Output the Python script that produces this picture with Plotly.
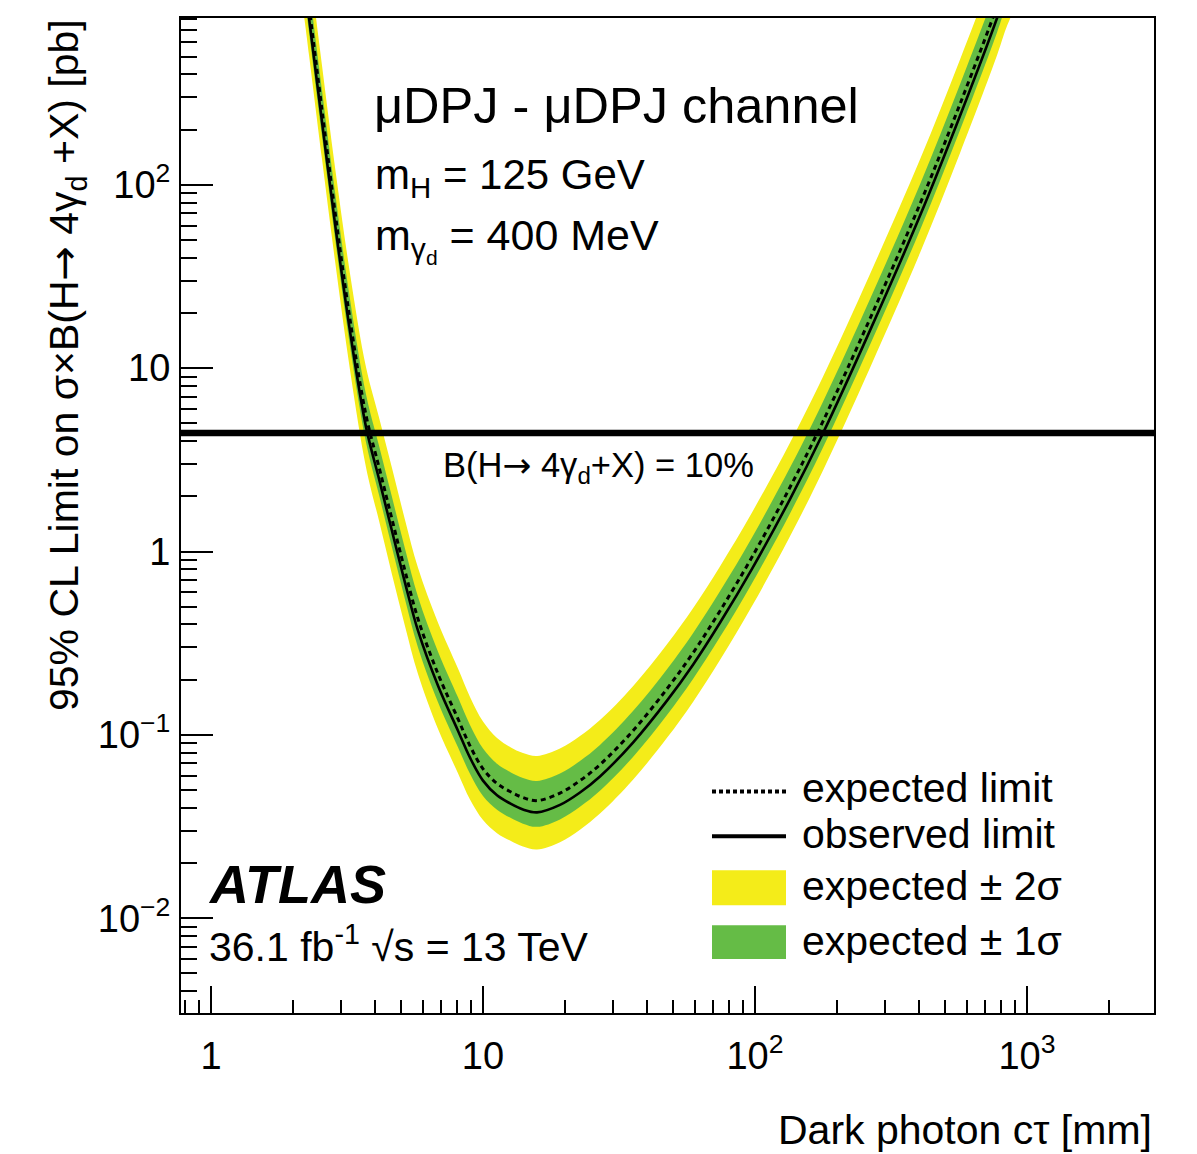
import plotly.graph_objects as go

# ---------------- data ----------------
ctau_mm = [2.12, 2.216, 2.293, 2.559, 2.857, 3.244, 3.715, 4.147, 4.628, 5.168, 5.768,
           6.833, 8.091, 8.958, 10.0, 11.26, 12.57, 14.03, 15.80,
           19.19, 22.73, 26.92, 35.60, 47.48, 59.18, 74.34, 97.50, 134.5, 177.8,
           264.8, 404.4, 567.3, 775.9, 830.0, 950.0]

observed = [1987, 1215, 812, 220.8, 61.5, 15.88, 4.77, 2.485, 1.294, 0.675, 0.370,
            0.1853, 0.1054, 0.0751, 0.0563, 0.0468, 0.0423, 0.0392, 0.0378,
            0.0415, 0.0485, 0.0593, 0.0908, 0.1537, 0.2414, 0.4087, 0.804, 1.933, 4.42,
            16.08, 67.97, 238.1, 812, 1098, 1931]

expected = [2305, 1409, 942, 256.1, 71.3, 18.42, 5.53, 2.883, 1.501, 0.783, 0.429,
            0.215, 0.1223, 0.0871, 0.0653, 0.0543, 0.0491, 0.0455, 0.0438,
            0.0481, 0.0563, 0.0688, 0.1053, 0.1783, 0.2800, 0.4741, 0.933, 2.242, 5.13,
            18.65, 78.85, 276.2, 942, 1274, 2240]

exp_p1 = [2950, 1804, 1206, 327.8, 91.3, 23.76, 7.19, 3.777, 1.981, 1.034, 0.566,
          0.2838, 0.1602, 0.1132, 0.0842, 0.0695, 0.0628, 0.0582, 0.0561,
          0.0616, 0.0721, 0.0881, 0.1348, 0.2282, 0.3584, 0.6068, 1.194, 2.870, 6.57,
          23.87, 100.9, 353.5, 1206, 1631, 2867]

exp_m1 = [1660, 1014, 678, 184.4, 51.3, 13.17, 3.93, 2.033, 1.051, 0.548, 0.300,
          0.1505, 0.0856, 0.0614, 0.0464, 0.0391, 0.0354, 0.0328, 0.0315,
          0.0346, 0.0405, 0.0495, 0.0758, 0.1284, 0.2016, 0.3414, 0.672, 1.614, 3.69,
          13.43, 56.77, 198.9, 678, 917, 1613]

exp_p2 = [4034, 2466, 1649, 448.2, 124.8, 32.79, 10.12, 5.391, 2.852, 1.488, 0.815,
          0.4085, 0.2299, 0.1611, 0.1182, 0.0961, 0.0859, 0.0796, 0.0767,
          0.0842, 0.0985, 0.1204, 0.1843, 0.3120, 0.4900, 0.8297, 1.633, 3.924, 8.98,
          32.64, 138.0, 483.4, 1649, 2230, 3920]

exp_m2 = [1245, 761, 509, 138.3, 38.5, 9.76, 2.876, 1.470, 0.7505, 0.3915, 0.2145,
          0.1075, 0.0618, 0.0444, 0.0343, 0.0291, 0.0265, 0.0246, 0.0237,
          0.0260, 0.0304, 0.0372, 0.0569, 0.0963, 0.1512, 0.2560, 0.504, 1.211, 2.77,
          10.07, 42.58, 149.1, 509, 688, 1210]

br10_limit = 4.43  # sigma(H) x 10% [pb]

x_tickvals = [1, 10, 100, 1000]
x_ticktext = ["1", "10", "10<sup>2</sup>", "10<sup>3</sup>"]
y_tickvals = [0.01, 0.1, 1, 10, 100]
y_ticktext = ["10<sup>\u22122</sup>", "10<sup>\u22121</sup>", "1", "10", "10<sup>2</sup>"]

x_minor = [0.8, 0.9] + [m * d for d in (1, 10, 100) for m in range(2, 10)] + [2000]
y_minor = [m * d for d in (0.001, 0.01, 0.1, 1, 10, 100) for m in range(2, 10)]

YELLOW = "#F4EC19"
GREEN = "#65BC46"
FONT = "Liberation Sans, Arial, Helvetica, sans-serif"
ARROW = "<span style=\"font-family:'DejaVu Sans'\">\u2192</span>"
SMOOTH = 1.0

# ---------------- figure ----------------
fig = go.Figure()

fig.add_trace(go.Scatter(
    x=ctau_mm + ctau_mm[::-1], y=exp_p2 + exp_m2[::-1],
    fill="toself", fillcolor=YELLOW, line=dict(width=0, shape="spline", smoothing=SMOOTH),
    mode="lines", hoverinfo="skip", showlegend=False))
fig.add_trace(go.Scatter(
    x=ctau_mm + ctau_mm[::-1], y=exp_p1 + exp_m1[::-1],
    fill="toself", fillcolor=GREEN, line=dict(width=0, shape="spline", smoothing=SMOOTH),
    mode="lines", hoverinfo="skip", showlegend=False))
fig.add_trace(go.Scatter(
    x=ctau_mm, y=expected, mode="lines",
    line=dict(color="black", width=3, dash="5px,4px", shape="spline", smoothing=SMOOTH),
    showlegend=False))
fig.add_trace(go.Scatter(
    x=ctau_mm, y=observed, mode="lines",
    line=dict(color="black", width=2.6, shape="spline", smoothing=SMOOTH),
    showlegend=False))

# horizontal B = 10% line
fig.add_shape(type="line", xref="paper", x0=0, x1=1, yref="y", y0=br10_limit, y1=br10_limit,
              line=dict(color="black", width=6.5))

# page body has an 8 px margin; screen coordinates of the plot frame:
OFF = 8
L, R, T, B = 181, 1154, 16, 1013
W, H = 1197 - OFF, 1154 - OFF


def px(xp):
    return (xp - L) / (R - L)


def py(yp):
    return (B - yp) / (B - T)


# legend (manual, ROOT style)
fig.add_shape(type="line", xref="paper", yref="paper", x0=px(712), x1=px(786), y0=py(791), y1=py(791),
              line=dict(color="black", width=4, dash="4px,3px"))
fig.add_shape(type="line", xref="paper", yref="paper", x0=px(712), x1=px(786), y0=py(836), y1=py(836),
              line=dict(color="black", width=4))
fig.add_shape(type="rect", xref="paper", yref="paper", x0=px(712), x1=px(786), y0=py(905), y1=py(870),
              fillcolor=YELLOW, line=dict(width=0))
fig.add_shape(type="rect", xref="paper", yref="paper", x0=px(712), x1=px(786), y0=py(959), y1=py(925),
              fillcolor=GREEN, line=dict(width=0))

legend_items = [("expected limit", 788), ("observed limit", 834),
                ("expected \u00b1 2\u03c3", 886), ("expected \u00b1 1\u03c3", 941)]
for txt, yy in legend_items:
    fig.add_annotation(xref="paper", yref="paper", x=px(800), y=py(yy), text=txt,
                       xanchor="left", yanchor="middle", showarrow=False,
                       font=dict(family=FONT, size=41, color="black"))

# labels inside the plot
fig.add_annotation(xref="paper", yref="paper", x=px(372), y=py(104),
                   text="\u03bcDPJ - \u03bcDPJ channel", xanchor="left", yanchor="middle",
                   showarrow=False, font=dict(family=FONT, size=50.5, color="black"))
fig.add_annotation(xref="paper", yref="paper", x=px(373), y=py(176),
                   text="m<sub>H</sub> = 125 GeV", xanchor="left", yanchor="middle",
                   showarrow=False, font=dict(family=FONT, size=42, color="black"))
fig.add_annotation(xref="paper", yref="paper", x=px(373), y=py(238),
                   text="m<sub>\u03b3<sub>d</sub></sub> = 400 MeV", xanchor="left", yanchor="middle",
                   showarrow=False, font=dict(family=FONT, size=43, color="black"))
fig.add_annotation(xref="paper", yref="paper", x=px(441), y=py(466),
                   text="B(H" + ARROW + " 4\u03b3<sub>d</sub>+X) = 10%", xanchor="left", yanchor="middle",
                   showarrow=False, font=dict(family=FONT, size=34.5, color="black"))
fig.add_annotation(xref="paper", yref="paper", x=px(206), y=py(884),
                   text="<b><i>ATLAS</i></b>", xanchor="left", yanchor="middle",
                   showarrow=False, font=dict(family=FONT, size=54, color="black"))
fig.add_annotation(xref="paper", yref="paper", x=px(207), y=py(944),
                   text="36.1 fb<sup>-1</sup> \u221as = 13 TeV", xanchor="left", yanchor="middle",
                   showarrow=False, font=dict(family=FONT, size=41, color="black"))

# axis titles
fig.add_annotation(xref="paper", yref="paper", x=px(66), y=py(15),
                   text="95% CL Limit on \u03c3\u00d7B(H" + ARROW + " 4\u03b3<sub>d</sub> +X) [pb]",
                   textangle=-90, xanchor="center", yanchor="top", showarrow=False,
                   font=dict(family=FONT, size=41, color="black"))
fig.add_annotation(xref="paper", yref="paper", x=1.0, y=py(1130),
                   text="Dark photon c\u03c4 [mm]", xanchor="right", yanchor="middle",
                   showarrow=False, font=dict(family=FONT, size=41, color="black"))

fig.update_layout(
    width=W, height=H,
    margin=dict(l=L - OFF, r=(W + OFF) - R, t=T - OFF, b=(H + OFF) - B, pad=0),
    paper_bgcolor="white", plot_bgcolor="white",
    showlegend=False,
    font=dict(family=FONT, color="black"),
)

fig.update_xaxes(
    type="log", range=[-0.1103, 3.4669],
    showgrid=False, zeroline=False,
    showline=True, linecolor="black", linewidth=2, mirror=True,
    ticks="inside", ticklen=27, tickwidth=2, tickcolor="black",
    tickmode="array", tickvals=x_tickvals, ticktext=x_ticktext,
    tickfont=dict(family=FONT, size=38, color="black"),
    ticklabelstandoff=8,
    minor=dict(ticks="inside", ticklen=13, tickwidth=2, tickcolor="black",
               tickmode="array", tickvals=x_minor, showgrid=False),
)
fig.update_yaxes(
    type="log", range=[-2.517, 2.910],
    showgrid=False, zeroline=False,
    showline=True, linecolor="black", linewidth=2, mirror=True,
    ticks="inside", ticklen=32, tickwidth=2, tickcolor="black",
    tickmode="array", tickvals=y_tickvals, ticktext=y_ticktext,
    tickfont=dict(family=FONT, size=38, color="black"),
    ticklabelstandoff=1,
    minor=dict(ticks="inside", ticklen=16, tickwidth=2, tickcolor="black",
               tickmode="array", tickvals=y_minor, showgrid=False),
)

fig.write_html("out.html")
